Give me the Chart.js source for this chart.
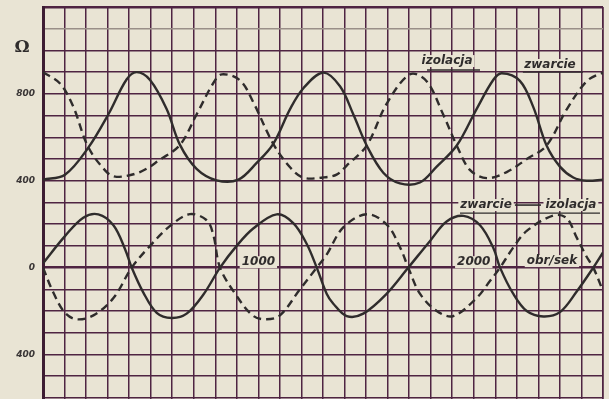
<!DOCTYPE html>
<html>
<head>
<meta charset="utf-8">
<script src="https://cdn.jsdelivr.net/npm/chart.js@4.4.1/dist/chart.umd.min.js"></script>
<style>
  html, body { margin: 0; padding: 0; background: #e9e4d4; }
  #wrap { width: 609px; height: 399px; }
  canvas { display: block; }
</style>
</head>
<body>
<div id="wrap"><canvas id="c" width="609" height="399"></canvas></div>
<script>
// Upper pair: resistance (Ω) against speed (obr/sek)
const zwarcieGornaX = [0, 102, 210, 303, 388, 435, 497, 574, 636, 713, 806, 907, 992, 1069, 1147, 1208, 1301, 1379, 1441, 1503, 1580, 1657, 1750, 1828, 1921, 2013, 2091, 2130, 2214, 2276, 2338, 2400, 2462, 2524, 2600];
const zwarcieGornaY = [405, 428, 552, 705, 866, 900, 864, 730, 565, 455, 402, 405, 482, 570, 730, 825, 898, 835, 705, 562, 437, 388, 392, 465, 562, 730, 865, 895, 860, 740, 562, 465, 415, 400, 405];

const izolacjaGornaX = [0, 79, 141, 210, 296, 342, 450, 543, 636, 713, 791, 830, 915, 976, 1069, 1147, 1208, 1300, 1363, 1410, 1503, 1596, 1704, 1781, 1858, 1921, 1982, 2060, 2153, 2246, 2338, 2431, 2524, 2586, 2600];
const izolacjaGornaY = [900, 848, 740, 555, 440, 418, 440, 497, 565, 705, 850, 890, 862, 762, 570, 462, 414, 415, 428, 470, 562, 755, 890, 858, 705, 562, 450, 412, 440, 500, 562, 728, 858, 893, 895];

// Lower pair
const zwarcieDolnaX = [0, 102, 187, 257, 327, 381, 412, 466, 528, 597, 667, 744, 822, 899, 976, 1085, 1162, 1224, 1271, 1317, 1347, 1410, 1487, 1596, 1696, 1797, 1874, 1952, 2029, 2091, 2122, 2183, 2246, 2323, 2400, 2478, 2555, 2600];
const zwarcieDolnaY = [20, 145, 230, 245, 195, 85, 0, -115, -208, -232, -212, -125, 0, 100, 180, 245, 205, 110, 0, -120, -165, -223, -212, -120, 0, 123, 212, 238, 195, 90, 0, -120, -200, -225, -205, -110, 0, 70];

const izolacjaDolnaX = [0, 48, 102, 156, 234, 327, 412, 497, 590, 682, 760, 791, 822, 899, 976, 1038, 1100, 1193, 1271, 1317, 1394, 1503, 1596, 1657, 1696, 1750, 1828, 1905, 2013, 2075, 2122, 2183, 2246, 2369, 2431, 2478, 2524, 2555, 2600];
const izolacjaDolnaY = [0, -115, -208, -238, -220, -140, 0, 100, 192, 246, 218, 150, 0, -130, -222, -238, -220, -100, 0, 60, 185, 246, 198, 95, 0, -120, -200, -223, -140, -62, 0, 92, 169, 240, 228, 138, 50, 0, -108];

// Axis ticks
const yTickLabels = { '800': '800', '400': '400', '0': '0', '-400': '400' };
const xTickLabels = { '1000': '1000', '2000': '2000' };
const xUnitLabel = 'obr/sek';
const yUnitLabel = 'Ω';

const yGrid = [];
for (let v = -600; v <= 1200; v += 100) yGrid.push(v);
const xGrid = [];
for (let v = 0; v <= 2600; v += 100) xGrid.push(v);

const PAPER = '#e9e4d4';
const INK = '#2f2c2c';
const GRID = '#4f2442';
const GRID_FADED = '#9a8f88';

const pts = (xs, ys) => xs.map((x, i) => ({ x: x, y: ys[i] }));

function line(label, xs, ys, dashed) {
  return {
    label: label,
    data: pts(xs, ys),
    borderColor: INK,
    borderWidth: 2.4,
    borderDash: dashed ? [8, 5] : [],
    pointRadius: 0,
    fill: false,
    tension: 0.35
  };
}

// Hand-lettered captions placed in data coordinates
const captions = {
  id: 'captions',
  afterDatasetsDraw(chart) {
    const { ctx, scales: { x, y } } = chart;
    ctx.save();
    const font = 'italic bold 12px "DejaVu Sans"';

    function label(text, xv, yv, f) {
      ctx.font = f || font;
      const w = ctx.measureText(text).width;
      const px = x.getPixelForValue(xv), py = y.getPixelForValue(yv);
      ctx.fillStyle = PAPER;
      ctx.fillRect(px - w / 2 - 2, py - 6, w + 4, 12);
      ctx.fillStyle = INK;
      ctx.textAlign = 'center';
      ctx.textBaseline = 'middle';
      ctx.fillText(text, px, py);
    }
    function rule(x1, x2, yv, lw) {
      const py = y.getPixelForValue(yv);
      ctx.strokeStyle = INK;
      ctx.lineWidth = lw || 1.3;
      ctx.beginPath();
      ctx.moveTo(x.getPixelForValue(x1), py);
      ctx.lineTo(x.getPixelForValue(x2), py);
      ctx.stroke();
    }

    // upper pair
    label('izolacja', 1876, 951);
    rule(1783, 2029, 910);
    label('zwarcie', 2354, 933);
    rule(2228, 2507, 900);

    // lower pair
    label('zwarcie', 2057, 288);
    rule(2191, 2312, 288, 1.6);
    label('izolacja', 2451, 288);
    rule(1936, 2586, 251);

    // speed axis captions on the zero line
    Object.keys(xTickLabels).forEach(k => label(xTickLabels[k], +k, 25));
    label(xUnitLabel, 2363, 30);

    // unit of the resistance axis
    ctx.font = 'bold 17px "DejaVu Serif"';
    ctx.fillStyle = INK;
    ctx.textAlign = 'center';
    ctx.textBaseline = 'middle';
    ctx.fillText(yUnitLabel, 22, y.getPixelForValue(1015));
    ctx.restore();
  }
};

new Chart(document.getElementById('c'), {
  type: 'line',
  data: {
    datasets: [
      line('zwarcie', zwarcieGornaX, zwarcieGornaY, false),
      line('izolacja', izolacjaGornaX, izolacjaGornaY, true),
      line('zwarcie', zwarcieDolnaX, zwarcieDolnaY, false),
      line('izolacja', izolacjaDolnaX, izolacjaDolnaY, true)
    ]
  },
  options: {
    responsive: false,
    devicePixelRatio: 1,
    animation: false,
    layout: { padding: { top: 7, right: 6, left: 0, bottom: 0 } },
    plugins: { legend: { display: false }, tooltip: { enabled: false } },
    scales: {
      x: {
        type: 'linear',
        min: 0,
        max: 2600,
        afterBuildTicks: s => { s.ticks = xGrid.map(v => ({ value: v })); },
        afterFit: s => { s.height = 0; s.paddingLeft = 0; s.paddingRight = 0; },
        border: { display: false },
        grid: {
          color: GRID,
          lineWidth: c => (c.tick && (c.tick.value === 2600)) ? 1.8 : 1.5,
          drawTicks: false
        },
        ticks: { display: false }
      },
      y: {
        type: 'linear',
        min: -605,
        max: 1200,
        afterBuildTicks: s => { s.ticks = yGrid.map(v => ({ value: v })); },
        afterFit: s => { s.width = 43; s.paddingTop = 0; s.paddingBottom = 0; },
        border: { display: true, color: '#3e1d33', width: 3 },
        grid: {
          color: c => (c.tick && c.tick.value === 1100) ? GRID_FADED : GRID,
          lineWidth: c => (c.tick && (c.tick.value === 0 || c.tick.value === 1200)) ? 2.6 : 1.5,
          drawTicks: false
        },
        ticks: {
          padding: 8,
          color: '#3a3636',
          font: { family: '"DejaVu Sans"', style: 'italic', weight: 'bold', size: 9 },
          callback: v => (yTickLabels[String(v)] !== undefined ? yTickLabels[String(v)] : '')
        }
      }
    }
  },
  plugins: [captions]
});
</script>
</body>
</html>
